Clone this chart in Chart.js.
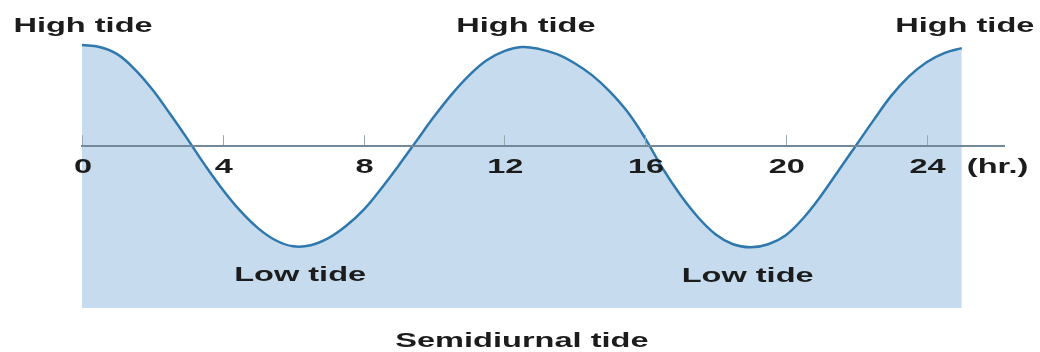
<!DOCTYPE html>
<html>
<head>
<meta charset="utf-8">
<script src="https://cdn.jsdelivr.net/npm/chart.js@4"></script>
<style>
  html, body { margin: 0; padding: 0; background: #fff; }
  #wrap { width: 1040px; height: 352px; }
</style>
</head>
<body>
<div id="wrap"><canvas id="tideChart" width="1040" height="352"></canvas></div>
<script>
// Water level through one day, every half hour (relative level)
const hours = [0, 0.5, 1, 1.5, 2, 2.5, 3, 3.5, 4, 4.5, 5, 5.5, 6, 6.5, 7, 7.5, 8, 8.5, 9, 9.5,
  10, 10.5, 11, 11.5, 12, 12.5, 13, 13.5, 14, 14.5, 15, 15.5, 16, 16.5, 17, 17.5, 18, 18.5, 19, 19.5,
  20, 20.5, 21, 21.5, 22, 22.5, 23, 23.5, 24, 24.5, 25];
const tideLevel = [1.00, 0.98, 0.91, 0.76, 0.56, 0.32, 0.07, -0.19, -0.43, -0.64, -0.81, -0.93, -0.99, -0.98, -0.91, -0.79, -0.63, -0.42, -0.19, 0.05,
  0.29, 0.51, 0.70, 0.85, 0.94, 0.98, 0.96, 0.91, 0.82, 0.70, 0.54, 0.34, 0.08, -0.22, -0.48, -0.70, -0.87, -0.97, -1.00, -0.97,
  -0.88, -0.71, -0.49, -0.24, 0.01, 0.26, 0.50, 0.69, 0.83, 0.92, 0.97];

// Labelled turning points
const highTideHours = [0, 12.5, 25];
const lowTideHours = [6, 19];
const highLabel = 'High tide';
const lowLabel = 'Low tide';
const chartTitle = 'Semidiurnal tide';
const unitLabel = '(hr.)';

const FONT = 'bold 21px "Liberation Sans", Arial, sans-serif';
const STRETCH = 1.55;
const TEXT_COLOR = '#1c1c1c';

// wide lettering, centred on cx
function wideText(ctx, text, cx, y) {
  ctx.save();
  ctx.translate(cx, y);
  ctx.scale(STRETCH, 1);
  ctx.font = FONT;
  ctx.fillStyle = TEXT_COLOR;
  ctx.textAlign = 'center';
  ctx.textBaseline = 'alphabetic';
  ctx.fillText(text, 0, 0);
  ctx.restore();
}

function levelAt(h) {
  return tideLevel[hours.indexOf(h)];
}

const tideLabels = {
  id: 'tideLabels',
  afterDatasetsDraw(chart) {
    const ctx = chart.ctx;
    const xs = chart.scales.x;
    const ys = chart.scales.y;
    const area = chart.chartArea;
    const zeroY = ys.getPixelForValue(0);

    // short tick marks standing on the time axis
    ctx.save();
    ctx.strokeStyle = '#98a6b0';
    ctx.lineWidth = 1;
    xs.ticks.forEach(t => {
      const px = Math.round(xs.getPixelForValue(t.value)) + 0.5;
      ctx.beginPath();
      ctx.moveTo(px, zeroY - 11);
      ctx.lineTo(px, zeroY);
      ctx.stroke();
    });
    ctx.restore();

    // hour labels under the axis
    xs.ticks.forEach(t => {
      wideText(ctx, String(t.value), xs.getPixelForValue(t.value) + 1, zeroY + 27);
    });
    wideText(ctx, unitLabel, xs.getPixelForValue(24) + 71, zeroY + 27);

    const topY = ys.getPixelForValue(1) - 13;
    const highNudge = [1, 4, 3];
    highTideHours.forEach((h, i) => {
      wideText(ctx, highLabel, xs.getPixelForValue(h) + highNudge[i], topY);
    });
    const lowNudge = [7, -3];
    lowTideHours.forEach((h, i) => {
      wideText(ctx, lowLabel, xs.getPixelForValue(h) + lowNudge[i], ys.getPixelForValue(levelAt(h)) + 35);
    });

    const midX = (xs.getPixelForValue(hours[0]) + xs.getPixelForValue(hours[hours.length - 1])) / 2;
    wideText(ctx, chartTitle, midX, area.bottom + 39);
  }
};

new Chart(document.getElementById('tideChart').getContext('2d'), {
  type: 'line',
  data: {
    datasets: [{
      data: hours.map((h, i) => ({ x: h, y: tideLevel[i] })),
      borderColor: '#2e78ae',
      borderWidth: 2.5,
      backgroundColor: '#c6dcee',
      fill: { value: -1.6 },
      pointRadius: 0,
      tension: 0.4
    }]
  },
  options: {
    responsive: false,
    animation: false,
    layout: { padding: { left: 82, right: 36, top: 40, bottom: 44 } },
    plugins: {
      legend: { display: false },
      tooltip: { enabled: false }
    },
    scales: {
      x: {
        type: 'linear',
        position: { y: 0 },
        min: 0,
        max: 26.2,
        z: 1,
        grid: { display: false, drawTicks: false },
        border: { display: true, color: '#71899a', width: 2, z: 1 },
        ticks: { display: false, stepSize: 4, includeBounds: false }
      },
      y: {
        display: false,
        min: -1.6,
        max: 1.05
      }
    }
  },
  plugins: [tideLabels]
});
</script>
</body>
</html>
